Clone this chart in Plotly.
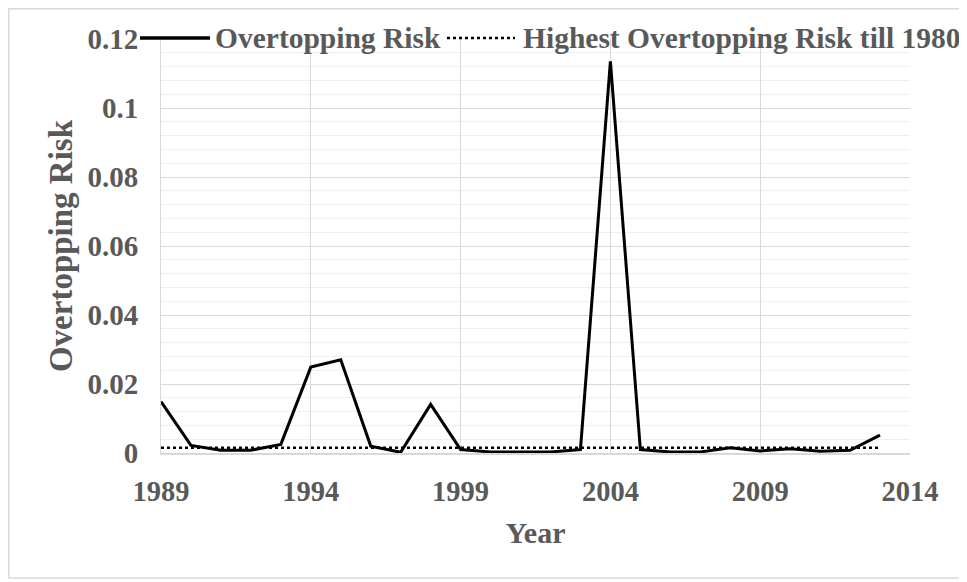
import plotly.graph_objects as go

years = list(range(1989, 2014))
risk = [0.0149, 0.0022, 0.0008, 0.0008, 0.0025, 0.0249, 0.0270, 0.0020, 0.0002, 0.0141,
        0.0010, 0.0003, 0.0003, 0.0003, 0.0010, 0.1135, 0.0010, 0.0003, 0.0003, 0.0015,
        0.0006, 0.0012, 0.0005, 0.0008, 0.0052]
highest_till_1980 = [0.0015] * len(years)
x_ticks = [1989, 1994, 1999, 2004, 2009, 2014]
y_ticks = [0, 0.02, 0.04, 0.06, 0.08, 0.1, 0.12]
y_tick_text = ["0", "0.02", "0.04", "0.06", "0.08", "0.1", "0.12"]
series_names = ["Overtopping Risk", "Highest Overtopping Risk till 1980"]

FONT = "Liberation Serif"
GRAY = "#595959"

fig = go.Figure()
fig.add_trace(go.Scatter(x=years, y=risk, mode="lines", name=series_names[0],
                         line=dict(color="black", width=3), showlegend=False))
fig.add_trace(go.Scatter(x=years, y=highest_till_1980, mode="lines", name=series_names[1],
                         line=dict(color="black", width=2.5, dash="dot"), showlegend=False))

# page body adds an 8px offset; coordinates below are in figure pixels
OFF = 8
W, H = 967, 582
L, T = 161 - OFF, 39 - OFF
R = W - (910 - OFF)
B = H - (453 - OFF)
pw = W - L - R
ph = H - T - B

def px(x):  # window px -> paper
    return (x - OFF - L) / pw

def py(y):
    return (H - B - (y - OFF)) / ph

fig.update_layout(
    width=W, height=H,
    margin=dict(l=L, r=R, t=T, b=B, autoexpand=False),
    paper_bgcolor="white", plot_bgcolor="white",
    font=dict(family=FONT, color=GRAY, size=28),
    showlegend=False,
    xaxis=dict(range=[1989, 2014], tickvals=x_ticks, ticktext=[f"<b>{v}</b>" for v in x_ticks],
               showgrid=True, gridcolor="#d9d9d9", gridwidth=1, automargin=False,
               showline=True, linecolor="#d9d9d9", linewidth=1.5, ticks="", zeroline=False,
               tickfont=dict(family=FONT, size=28.5, color=GRAY), ticklabelstandoff=12,
               title=dict(text="<b>Year</b>", font=dict(family=FONT, size=30, color=GRAY), standoff=16)),
    yaxis=dict(range=[0, 0.12], tickvals=y_ticks,
               ticktext=[f"<b>{t}</b>" for t in y_tick_text], automargin=False,
               showgrid=True, gridcolor="#d9d9d9", gridwidth=1, zeroline=False,
               showline=True, linecolor="#d9d9d9", linewidth=1, ticks="",
               minor=dict(dtick=0.004, showgrid=True, gridcolor="#efefef", gridwidth=1),
               tickfont=dict(family=FONT, size=29, color=GRAY), ticklabelstandoff=16,
               title=dict(text="<b>Overtopping Risk</b>", font=dict(family=FONT, size=33, color=GRAY), standoff=4)),
)

# outer chart frame
fig.add_shape(type="rect", xref="paper", yref="paper",
              x0=(0.75 - L) / pw, x1=px(963), y0=py(578), y1=(H - B - 0.75) / ph,
              line=dict(color="#d9d9d9", width=1.5), fillcolor="rgba(0,0,0,0)", layer="below")

# legend (drawn at top, overlapping plot top like the original)
ly = py(38)
fig.add_shape(type="line", xref="paper", yref="paper", x0=px(140), x1=px(210), y0=ly, y1=ly,
              line=dict(color="black", width=3.5))
fig.add_annotation(xref="paper", yref="paper", x=px(213), y=ly, xanchor="left", yanchor="middle",
                   text=f"<b>{series_names[0]}</b>", showarrow=False,
                   font=dict(family=FONT, size=29.5, color=GRAY))
fig.add_shape(type="line", xref="paper", yref="paper", x0=px(447), x1=px(515), y0=ly, y1=ly,
              line=dict(color="black", width=2.5, dash="dot"))
fig.add_annotation(xref="paper", yref="paper", x=px(521), y=ly, xanchor="left", yanchor="middle",
                   text=f"<b>{series_names[1]}</b>", showarrow=False,
                   font=dict(family=FONT, size=29.5, color=GRAY))

fig.write_html("out.html")
